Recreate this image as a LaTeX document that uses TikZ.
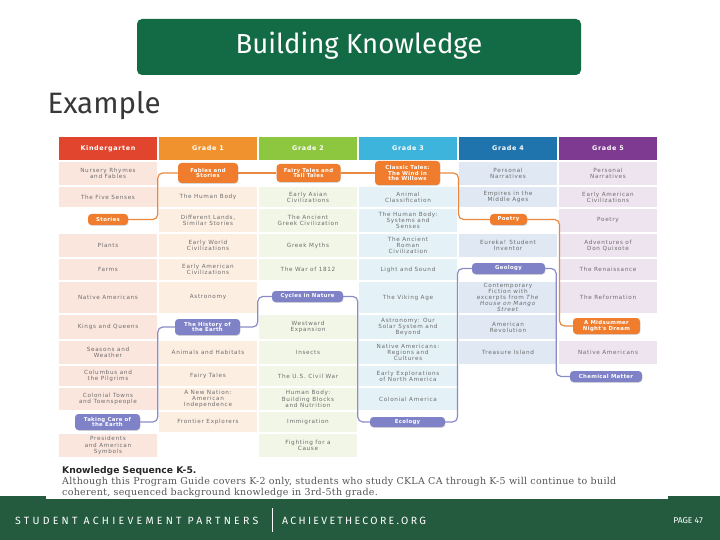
\documentclass[tikz,border=0pt]{standalone}
\usepackage{fontspec}
\setmainfont{DejaVu Sans}
\newfontfamily\cellf[LetterSpace=12]{DejaVu Sans}
\newfontfamily\headf[LetterSpace=10]{DejaVu Sans}
\newfontfamily\pillf[LetterSpace=6]{DejaVu Sans}
\newfontfamily\titlef{Fira Sans}
\newfontfamily\footf[LetterSpace=31]{Fira Sans}
\newfontfamily\urlf[LetterSpace=22]{Fira Sans}
\newfontfamily\capf[LetterSpace=3]{DejaVu Serif}
\usetikzlibrary{shadows}
\definecolor{titlegreen}{HTML}{136B45}
\definecolor{footgreen}{HTML}{245B3F}
\definecolor{hK}{HTML}{E2452E}
\definecolor{hA}{HTML}{F0922E}
\definecolor{hB}{HTML}{8DC63F}
\definecolor{hC}{HTML}{3DB4DC}
\definecolor{hD}{HTML}{1F74AE}
\definecolor{hE}{HTML}{7E3A91}
\definecolor{bK}{HTML}{FBE6DE}
\definecolor{bA}{HTML}{FDEEE2}
\definecolor{bB}{HTML}{F1F6E6}
\definecolor{bC}{HTML}{E4F2F8}
\definecolor{bD}{HTML}{DFE8F3}
\definecolor{bE}{HTML}{EEE4EF}
\definecolor{pillor}{HTML}{EF7D2D}
\definecolor{pillpu}{HTML}{7F82C6}
\definecolor{lineor}{HTML}{E9893F}
\definecolor{linepu}{HTML}{8A8CC8}
\definecolor{celltext}{HTML}{6D6D6D}
\definecolor{captext}{HTML}{555555}
\newcommand\kcell[6]{\node[cell,fill=#5,minimum height=#4pt] (#1) at (#2,#3) {#6};}
\begin{document}
\begin{tikzpicture}[x=1pt,y=-1pt,
  cell/.style={rectangle, minimum width=98pt, inner sep=0pt, align=center, text=celltext,
    font=\cellf\fontsize{5.7}{6.2}\selectfont},
  head/.style={rectangle, minimum width=98pt, minimum height=23pt, inner sep=0pt, text=white,
    font=\headf\bfseries\fontsize{6.4}{7}\selectfont},
  pill/.style={rectangle, rounded corners=3.5pt, inner sep=0pt, align=center, text=white,
    font=\pillf\bfseries\fontsize{5.4}{5.8}\selectfont,
    drop shadow={opacity=0.3, shadow xshift=0.4pt, shadow yshift=-0.8pt}},
  opill/.style={pill, fill=pillor},
  ppill/.style={pill, fill=pillpu},
  oline/.style={draw=lineor, line width=1.2pt, rounded corners=5pt},
  pline/.style={draw=linepu, line width=1.2pt, rounded corners=5pt}]
\useasboundingbox (0,0) rectangle (720,540);
\fill[white] (0,0) rectangle (720,540);
% title
\fill[titlegreen, rounded corners=5pt] (137,19) rectangle (581,75);
\node[text=white, font=\titlef\fontsize{27.5}{30}\selectfont] (title) at (359,46) {Building Knowledge};
\node[anchor=base west, text=black!78, font=\titlef\fontsize{29.5}{32}\selectfont] (example) at (44,114) {Example};
% headers
\node[head, fill=hK] (hk) at (108,148.5) {Kindergarten};
\node[head, fill=hA] (ha) at (208,148.5) {Grade 1};
\node[head, fill=hB] (hb) at (308,148.5) {Grade 2};
\node[head, fill=hC] (hc) at (408,148.5) {Grade 3};
\node[head, fill=hD] (hd) at (508,148.5) {Grade 4};
\node[head, fill=hE] (he) at (608,148.5) {Grade 5};
% Kindergarten
\kcell{k1}{108}{173.5}{23}{bK}{Nursery Rhymes\\and Fables}
\kcell{k2}{108}{197}{20}{bK}{The Five Senses}
\kcell{k4}{108}{245.5}{23}{bK}{Plants}
\kcell{k5}{108}{269.5}{21}{bK}{Farms}
\kcell{k6}{108}{297.5}{31}{bK}{Native Americans}
\kcell{k7}{108}{327}{24}{bK}{Kings and Queens}
\kcell{k8}{108}{352.5}{23}{bK}{Seasons and\\Weather}
\kcell{k9}{108}{376}{20}{bK}{Columbus and\\the Pilgrims}
\kcell{k10}{108}{399}{22}{bK}{Colonial Towns\\and Townspeople}
\kcell{k12}{108}{445.5}{23}{bK}{Presidents\\and American\\Symbols}
% Grade 1
\kcell{a2}{208}{197}{20}{bA}{The Human Body}
\kcell{a3}{208}{220.5}{23}{bA}{Different Lands,\\Similar Stories}
\kcell{a4}{208}{245.5}{23}{bA}{Early World\\Civilizations}
\kcell{a5}{208}{269.5}{21}{bA}{Early American\\Civilizations}
\kcell{a6}{208}{297.5}{31}{bA}{Astronomy}
\kcell{a8}{208}{352.5}{23}{bA}{Animals and Habitats}
\kcell{a9}{208}{376}{20}{bA}{Fairy Tales}
\kcell{a10}{208}{399}{22}{bA}{A New Nation:\\American\\Independence}
\kcell{a11}{208}{422}{20}{bA}{Frontier Explorers}
% Grade 2
\kcell{b2}{308}{197}{20}{bB}{Early Asian\\Civilizations}
\kcell{b3}{308}{220.5}{23}{bB}{The Ancient\\Greek Civilization}
\kcell{b4}{308}{245.5}{23}{bB}{Greek Myths}
\kcell{b5}{308}{269.5}{21}{bB}{The War of 1812}
\kcell{b7}{308}{327}{24}{bB}{Westward\\Expansion}
\kcell{b8}{308}{352.5}{23}{bB}{Insects}
\kcell{b9}{308}{376}{20}{bB}{The U.S. Civil War}
\kcell{b10}{308}{399}{22}{bB}{Human Body:\\Building Blocks\\and Nutrition}
\kcell{b11}{308}{422}{20}{bB}{Immigration}
\kcell{b12}{308}{445.5}{23}{bB}{Fighting for a\\Cause}
% Grade 3
\kcell{c2}{408}{197}{20}{bC}{Animal\\Classification}
\kcell{c3}{408}{220.5}{23}{bC}{The Human Body:\\Systems and\\Senses}
\kcell{c4}{408}{245.5}{23}{bC}{The Ancient\\Roman\\Civilization}
\kcell{c5}{408}{269.5}{21}{bC}{Light and Sound}
\kcell{c6}{408}{297.5}{31}{bC}{The Viking Age}
\kcell{c7}{408}{327}{24}{bC}{Astronomy: Our\\Solar System and\\Beyond}
\kcell{c8}{408}{352.5}{23}{bC}{Native Americans:\\Regions and\\Cultures}
\kcell{c9}{408}{376}{20}{bC}{Early Explorations\\of North America}
\kcell{c10}{408}{399}{22}{bC}{Colonial America}
% Grade 4
\kcell{d1}{508}{173.5}{23}{bD}{Personal\\Narratives}
\kcell{d2}{508}{197}{20}{bD}{Empires in the\\Middle Ages}
\kcell{d4}{508}{245.5}{23}{bD}{Eureka! Student\\Inventor}
\kcell{d6}{508}{297.5}{31}{bD}{Contemporary\\Fiction with\\excerpts from \textit{The}\\\textit{House on Mango}\\\textit{Street}}
\kcell{d7}{508}{327}{24}{bD}{American\\Revolution}
\kcell{d8}{508}{352.5}{23}{bD}{Treasure Island}
% Grade 5
\kcell{e1}{608}{173.5}{23}{bE}{Personal\\Narratives}
\kcell{e2}{608}{197}{20}{bE}{Early American\\Civilizations}
\kcell{e3}{608}{220.5}{23}{bE}{Poetry}
\kcell{e4}{608}{245.5}{23}{bE}{Adventures of\\Don Quixote}
\kcell{e5}{608}{269.5}{21}{bE}{The Renaissance}
\kcell{e6}{608}{297.5}{31}{bE}{The Reformation}
\kcell{e8}{608}{352.5}{23}{bE}{Native Americans}
% pills
\node[opill, minimum width=40pt, minimum height=11pt] (stories) at (108,219.5) {Stories};
\node[opill, minimum width=60pt, minimum height=20pt] (fables) at (208,173) {Fables and\\Stories};
\node[opill, minimum width=64pt, minimum height=18pt] (fairy) at (308.5,173) {Fairy Tales and\\Tall Tales};
\node[opill, minimum width=65pt, minimum height=24pt] (classic) at (407.5,173) {Classic Tales:\\The Wind in\\the Willows};
\node[opill, minimum width=37pt, minimum height=11pt] (poetry) at (508.5,219.5) {Poetry};
\node[opill, minimum width=67pt, minimum height=16pt] (midsummer) at (606.5,326) {A Midsummer\\Night's Dream};
\node[ppill, minimum width=65pt, minimum height=16pt] (taking) at (107.5,422) {Taking Care of\\the Earth};
\node[ppill, minimum width=65pt, minimum height=16pt] (history) at (207.5,327) {The History of\\the Earth};
\node[ppill, minimum width=71pt, minimum height=11pt] (cycles) at (307.5,296.5) {Cycles in Nature};
\node[ppill, minimum width=75pt, minimum height=10pt] (ecology) at (407.5,422) {Ecology};
\node[ppill, minimum width=73pt, minimum height=11pt] (geology) at (508.5,268.5) {Geology};
\node[ppill, minimum width=72pt, minimum height=11pt] (chemical) at (606,376.5) {Chemical Matter};
% gap coordinates
\coordinate (gA) at (157.8,0);
\coordinate (gB) at (257.8,0);
\coordinate (gC) at (357.8,0);
\coordinate (gDo) at (458.5,0);
\coordinate (gDp) at (457.5,0);
\coordinate (gEo) at (559.5,0);
\coordinate (gEp) at (556.2,0);
% orange thread
\draw[oline] (stories.east) -- (stories.east -| gA) |- (fables.west);
\draw[oline] (fables.east) -- (fairy.west);
\draw[oline] (fairy.east) -- (classic.west);
\draw[oline] (classic.east) -- (classic.east -| gDo) |- (poetry.west);
\draw[oline] (poetry.east) -- (poetry.east -| gEo) |- (midsummer.west);
% purple thread
\draw[pline] (taking.east) -- (taking.east -| gA) |- (history.west);
\draw[pline] (history.east) -- (history.east -| gB) |- (cycles.west);
\draw[pline] (cycles.east) -- (cycles.east -| gC) |- (ecology.west);
\draw[pline] (ecology.east) -- (ecology.east -| gDp) |- (geology.west);
\draw[pline] (geology.east) -- (geology.east -| gEp) |- (chemical.west);
% footer
\fill[footgreen] (0,496) rectangle (720,540);
\fill[white] (46,496) rectangle (668,499);
% caption
\node[anchor=base west, inner sep=0pt, text=black!85, font=\bfseries\fontsize{9.2}{10}\selectfont] (cap1) at (62,473) {Knowledge Sequence K-5.};
\node[anchor=base west, inner sep=0pt, text=captext, font=\capf\fontsize{9.5}{10}\selectfont] (cap2) at (62,484.5) {Although this Program Guide covers K-2 only, students who study CKLA CA through K-5 will continue to build};
\node[anchor=base west, inner sep=0pt, text=captext, font=\capf\fontsize{9.5}{10}\selectfont] (cap3) at (62,495.5) {coherent, sequenced background knowledge in 3rd-5th grade.};
\node[anchor=base west, inner sep=0pt, text=white, font=\footf\fontsize{10.5}{12}\selectfont] (sap) at (15,524) {STUDENT ACHIEVEMENT PARTNERS};
\draw[white, line width=0.8pt] (272,508) -- (272,532);
\node[anchor=base west, inner sep=0pt, text=white, font=\urlf\fontsize{10.5}{12}\selectfont] (url) at (282,524) {ACHIEVETHECORE.ORG};
\node[anchor=base east, inner sep=0pt, text=white, font=\titlef\fontsize{8.5}{10}\selectfont] (page) at (703,523.5) {PAGE 47};
\end{tikzpicture}
\end{document}
